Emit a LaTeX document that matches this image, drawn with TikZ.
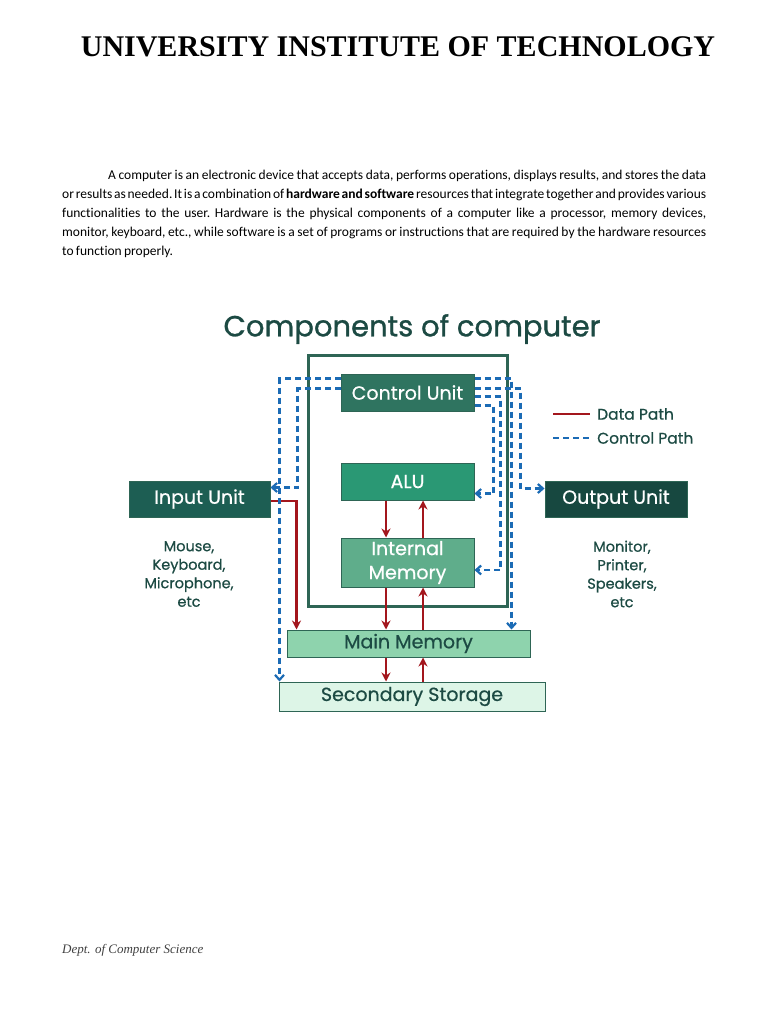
\documentclass[tikz,border=0pt]{standalone}
\usepackage{fontspec}
\setmainfont{Liberation Serif}
\newfontfamily\popfont{Poppins}[FakeBold=0.6]
\newfontfamily\poptitle{Poppins}[FakeBold=1.0]
\newfontfamily\carfont{Carlito}[Ligatures=NoCommon,WordSpace=0.75,HyphenChar=None]
\hyphenpenalty=10000
\exhyphenpenalty=10000
\usetikzlibrary{arrows.meta,calc}
\definecolor{teal1}{HTML}{1C4A43}
\definecolor{cufill}{HTML}{2F7460}
\definecolor{alufill}{HTML}{2A9874}
\definecolor{imfill}{HTML}{5FAD8B}
\definecolor{mmfill}{HTML}{8ED3AD}
\definecolor{ssfill}{HTML}{DDF5E7}
\definecolor{iofill}{HTML}{1D5E53}
\definecolor{oufill}{HTML}{174840}
\definecolor{boxline}{HTML}{2E6555}
\definecolor{redp}{HTML}{A3161D}
\definecolor{bluep}{HTML}{1B6BB5}
\tikzset{
  unitbox/.style={draw=boxline, line width=1pt, inner sep=0pt, font=\popfont\fontsize{19}{22}\selectfont, text=white},
  lightbox/.style={unitbox, text=teal1},
  datap/.style={draw=redp, line width=2.6pt, -{Stealth[length=9pt,width=9pt]}},
  ctrlp/.style={draw=bluep, line width=2.2pt, dash pattern=on 6pt off 4pt, -{Straight Barb[length=5pt,width=9pt]}},
  devtext/.style={font=\popfont\fontsize{14.5}{18.5}\selectfont, text=teal1, align=center, inner sep=0pt},
}
\begin{document}
\begin{tikzpicture}[x=1pt,y=-1pt]
\useasboundingbox (0,0) rectangle (768,1024);
\fill[white] (0,0) rectangle (768,1024);

% header
\node[font=\bfseries\fontsize{30}{33}\selectfont, inner sep=0pt] (hdr) at (398,47) {UNIVERSITY INSTITUTE OF TECHNOLOGY};

% paragraph
\node[anchor=north west, inner sep=0pt, text width=644pt, align=justify,
      font=\carfont\fontsize{13.5}{19}\selectfont] (para) at (62,170)
{\frenchspacing\hspace*{46pt}A computer is an electronic device that accepts data, performs operations, displays results, and stores the data or results as needed. It is a combination of \textbf{hardware and software} resources that integrate together and provides various\linebreak functionalities to the user. Hardware is the physical components of a computer like a processor, memory devices,\linebreak monitor, keyboard, etc., while software is a set of programs or instructions that are required by the hardware resources\linebreak to function properly.};

% diagram title
\node[font=\poptitle\fontsize{29}{32}\selectfont, text=teal1, inner sep=0pt] (title) at (412,329) {Components of computer};

% outer CPU box
\draw[boxline, line width=3pt] (308,355) rectangle (507,606);

% units
\node[unitbox, fill=cufill, minimum width=133pt, minimum height=37pt] (cu) at (407.5,392.5) {Control Unit};
\node[unitbox, fill=alufill, minimum width=133pt, minimum height=37pt] (alu) at (407.5,481.5) {ALU};
\node[unitbox, fill=imfill, minimum width=133pt, minimum height=49pt, align=center, font=\popfont\fontsize{19}{24}\selectfont] (im) at (407.5,562.5) {Internal\\Memory};
\node[lightbox, fill=mmfill, minimum width=243pt, minimum height=27pt] (mm) at (408.5,643.5) {Main Memory};
\node[lightbox, fill=ssfill, minimum width=266pt, minimum height=29pt] (ss) at (412,696.5) {Secondary Storage};
\node[unitbox, fill=iofill, minimum width=141pt, minimum height=36pt] (iu) at (199.5,499) {Input Unit};
\node[unitbox, fill=oufill, minimum width=142pt, minimum height=36pt] (ou) at (616,499) {Output Unit};

% device texts
\node[devtext] (indev) at (189,574) {Mouse,\\Keyboard,\\Microphone,\\etc};
\node[devtext] (outdev) at (622,574) {Monitor,\\Printer,\\Speakers,\\etc};

% legend
\coordinate (lg1a) at (553,414); \coordinate (lg1b) at (590,414);
\coordinate (lg2a) at (553,438); \coordinate (lg2b) at (590,438);
\draw[draw=redp, line width=2.6pt] (lg1a) -- (lg1b);
\draw[draw=bluep, line width=2.2pt, dash pattern=on 6pt off 4pt] (lg2a) -- (lg2b);
\node[devtext, font=\popfont\fontsize{15.5}{18}\selectfont, anchor=west] (lgd) at (597,414) {Data Path};
\node[devtext, font=\popfont\fontsize{15.5}{18}\selectfont, anchor=west] (lgc) at (597,438) {Control Path};

% data paths
\coordinate (xl) at (386,0);
\coordinate (xr) at (423,0);
\draw[datap] ($(iu.east)+(0,2)$) -| ($(mm.north west)+(10,0)$);
\draw[datap] (alu.south -| xl) -- (im.north -| xl);
\draw[datap] (im.north -| xr) -- (alu.south -| xr);
\draw[datap] (im.south -| xl) -- (mm.north -| xl);
\draw[datap] (mm.north -| xr) -- (im.south -| xr);
\draw[datap] (mm.south -| xl) -- (ss.north -| xl);
\draw[datap] (ss.north -| xr) -- (mm.south -| xr);

% control paths
\draw[ctrlp] ($(cu.north west)+(0,5)$) -| ($(ss.north west)+(1,0)$);
\draw[ctrlp] ($(cu.north west)+(0,15)$) -| ($(iu.north east)+(27,7)$) -- ($(iu.north east)+(0,7)$);
\draw[ctrlp] ($(cu.north east)+(0,5)$) -| ($(mm.north east)+(-19,0)$);
\draw[ctrlp] ($(cu.north east)+(0,15)$) -| ($(ou.north west)+(-24,8)$) -- ($(ou.north west)+(0,8)$);
\draw[ctrlp] ($(cu.north east)+(0,23)$) -| ($(im.east)+(26,7.5)$) -- ($(im.east)+(0,7.5)$);
\draw[ctrlp] ($(cu.north east)+(0,32)$) -| ($(alu.south east)+(19,-7)$) -- ($(alu.south east)+(0,-7)$);

% footer
\node[anchor=west, font=\itshape\fontsize{13}{15}\selectfont, text=black!75, inner sep=0pt] (foot) at (62,950) {Dept. of Computer Science};
\end{tikzpicture}
\end{document}
